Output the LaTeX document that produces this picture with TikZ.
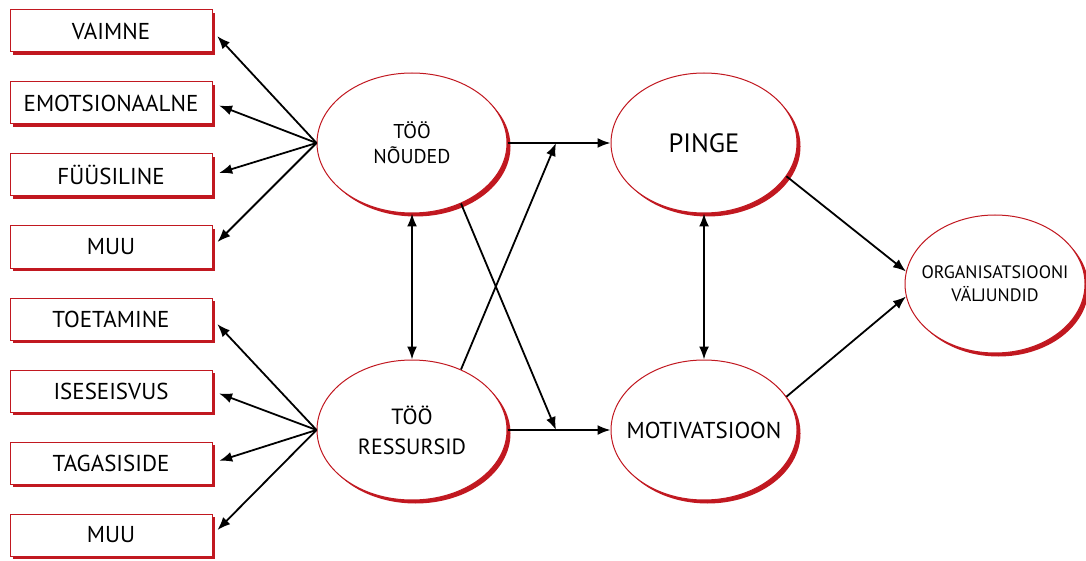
\documentclass[tikz,border=0pt]{standalone}
\usepackage{fontspec}
\setmainfont{PT Sans}
\usetikzlibrary{arrows.meta,shapes.geometric,shadows}
\definecolor{rimred}{RGB}{193,24,32}

\begin{document}
\begin{tikzpicture}[x=1pt, y=-1pt, >={Latex[length=13pt,width=10pt]}, line width=1.8pt,
  factor/.style={draw=rimred, line width=1pt, fill=white, minimum width=202pt,
    minimum height=42pt, inner sep=0pt,
    drop shadow={shadow xshift=3pt, shadow yshift=-3pt, fill=rimred, opacity=1},
    font=\fontsize{23}{27}\selectfont},
  block/.style={ellipse, draw=rimred, line width=1pt, fill=white, minimum width=190pt,
    minimum height=140pt, inner sep=-25pt, align=center,
    drop shadow={shadow xshift=3.5pt, shadow yshift=-3.5pt, fill=rimred, opacity=1}}]

\useasboundingbox (0,0) rectangle (1086,561);

\node [factor] (vaimne) at (111, 31) {VAIMNE};
\node [factor] (emots) at (111, 103) {EMOTSIONAALNE};
\node [factor] (fyys) at (111, 175) {FÜÜSILINE};
\node [factor] (muu1) at (111, 247) {MUU};
\node [factor] (toet) at (111, 319) {TOETAMINE};
\node [factor] (isese) at (111, 391) {ISESEISVUS};
\node [factor] (tagas) at (111, 463) {TAGASISIDE};
\node [factor] (muu2) at (111, 535) {MUU};

\node [block, font=\fontsize{20}{25}\selectfont] (noud) at (412, 143) {TÖÖ\\NÕUDED};
\node [block, font=\fontsize{22}{30}\selectfont] (ress) at (412, 430) {TÖÖ\\RESSURSID};
\node [block, minimum width=186pt, font=\fontsize{26.5}{30}\selectfont] (pinge) at (704, 143) {PINGE};
\node [block, minimum width=186pt, font=\fontsize{23}{27}\selectfont] (motiv) at (704, 430) {MOTIVATSIOON};
\node [block, minimum width=180pt, minimum height=138pt, font=\fontsize{18}{23}\selectfont] (org) at (995, 284) {ORGANISATSIOONI\\VÄLJUNDID};

\coordinate (jp) at (556, 143);
\coordinate (jm) at (556, 430);

\draw [->, shorten >=7pt] (noud.west) -- (vaimne.east);
\draw [->, shorten >=7pt] (noud.west) -- (emots.east);
\draw [->, shorten >=7pt] (noud.west) -- (fyys.east);
\draw [->, shorten >=7pt] (noud.west) -- (muu1.east);
\draw [->, shorten >=7pt] (ress.west) -- (toet.east);
\draw [->, shorten >=7pt] (ress.west) -- (isese.east);
\draw [->, shorten >=7pt] (ress.west) -- (tagas.east);
\draw [->, shorten >=7pt] (ress.west) -- (muu2.east);

\draw [->] (noud.east) -- (pinge.west);
\draw [->] (ress.east) -- (motiv.west);
\draw [->] (ress.51) -- (jp);
\draw [->] (noud.-51) -- (jm);
\draw [<->] (noud.south) -- (ress.north);
\draw [<->] (pinge.south) -- (motiv.north);
\draw [->] (pinge.-22) -- (org.172);
\draw [->] (motiv.22) -- (org.188);

\end{tikzpicture}
\end{document}
